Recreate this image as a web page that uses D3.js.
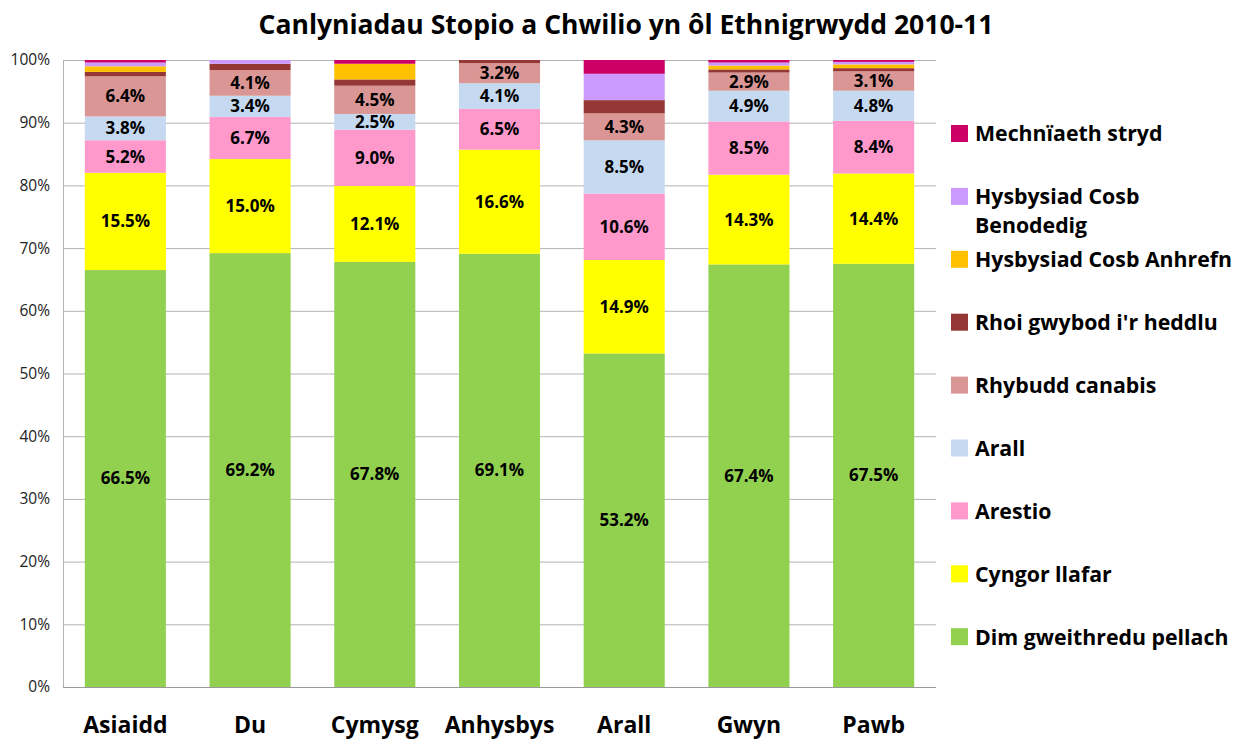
<!DOCTYPE html>
<html>
<head>
<meta charset="utf-8">
<script src="https://cdn.jsdelivr.net/npm/d3@7"></script>
<style>
  body { margin: 0; background: #fff; }
  svg, svg text { font-family: "Open Sans", Lato, sans-serif; }
  .grid line { stroke: #b3b3b3; }
  .y-axis text { font-size: 15.5px; fill: #222; }
  .x-axis text { font-size: 23px; font-weight: bold; fill: #000; }
  .seg-label { font-size: 17px; font-weight: bold; fill: #000; }
  .legend text { font-size: 21.3px; font-weight: bold; fill: #000; }
</style>
</head>
<body>
<div id="chart"></div>
<script>
const categories = ["Asiaidd", "Du", "Cymysg", "Anhysbys", "Arall", "Gwyn", "Pawb"];

// stacked bottom to top
const dimGweithredu = [66.5, 69.2, 67.8, 69.1, 53.2, 67.4, 67.5];
const cyngorLlafar  = [15.5, 15.0, 12.1, 16.6, 14.9, 14.3, 14.4];
const arestio       = [5.2, 6.7, 9.0, 6.5, 10.6, 8.5, 8.4];
const arall         = [3.8, 3.4, 2.5, 4.1, 8.5, 4.9, 4.8];
const rhybudd       = [6.4, 4.1, 4.5, 3.2, 4.3, 2.9, 3.1];
const rhoiGwybod    = [0.7, 1.0, 1.0, 0.5, 2.1, 0.5, 0.5];
const cosbAnhrefn   = [0.9, 0.0, 2.5, 0.0, 0.0, 0.6, 0.6];
const cosbBenodedig = [0.6, 0.6, 0.0, 0.0, 4.2, 0.5, 0.4];
const mechniaeth    = [0.4, 0.0, 0.6, 0.0, 2.2, 0.4, 0.3];

const yTicks = [0, 10, 20, 30, 40, 50, 60, 70, 80, 90, 100];

const series = [
  { name: "Dim gweithredu pellach", values: dimGweithredu, color: "#92D050", label: true },
  { name: "Cyngor llafar", values: cyngorLlafar, color: "#FFFF00", label: true },
  { name: "Arestio", values: arestio, color: "#FF99CC", label: true },
  { name: "Arall", values: arall, color: "#C5D9F1", label: true },
  { name: "Rhybudd canabis", values: rhybudd, color: "#DA9694", label: true },
  { name: "Rhoi gwybod i'r heddlu", values: rhoiGwybod, color: "#953735", label: false },
  { name: "Hysbysiad Cosb Anhrefn", values: cosbAnhrefn, color: "#FFC000", label: false },
  { name: "Hysbysiad Cosb Benodedig", values: cosbBenodedig, color: "#CC99FF", label: false },
  { name: "Mechnïaeth stryd", values: mechniaeth, color: "#CC0066", label: false }
];

const width = 1237, height = 742;
const plot = { left: 63, right: 936, top: 60, bottom: 687 };

const svg = d3.select("#chart").append("svg")
  .attr("width", width).attr("height", height);

const x = d3.scaleBand().domain(categories).range([plot.left, plot.right]).paddingInner(0.35).paddingOuter(0.175);
const y = d3.scaleLinear().domain([0, 100]).range([plot.bottom, plot.top]);

// gridlines
svg.append("g").attr("class", "grid")
  .selectAll("line").data(yTicks).join("line")
  .attr("x1", plot.left).attr("x2", plot.right)
  .attr("y1", d => y(d) + 0.5).attr("y2", d => y(d) + 0.5);

svg.append("line")
  .attr("x1", plot.left + 0.5).attr("x2", plot.left + 0.5)
  .attr("y1", plot.top).attr("y2", plot.bottom)
  .attr("stroke", "#b3b3b3");

// stack
const rows = categories.map((c, i) => {
  const r = { cat: c };
  series.forEach(s => { r[s.name] = s.values[i]; });
  return r;
});
const stacked = d3.stack().keys(series.map(s => s.name))(rows);

const layers = svg.append("g").selectAll("g").data(stacked).join("g")
  .attr("fill", (d, i) => series[i].color);

layers.selectAll("rect").data(d => d).join("rect")
  .attr("x", d => x(d.data.cat))
  .attr("width", x.bandwidth())
  .attr("y", d => y(d[1]))
  .attr("height", d => Math.max(0, y(d[0]) - y(d[1])));

// labels
stacked.forEach((layer, i) => {
  if (!series[i].label) return;
  svg.append("g").selectAll("text").data(layer).join("text")
    .attr("class", "seg-label")
    .attr("x", d => x(d.data.cat) + x.bandwidth() / 2)
    .attr("y", d => y((d[0] + d[1]) / 2))
    .attr("dy", "0.35em")
    .attr("text-anchor", "middle")
    .text(d => (d[1] - d[0]).toFixed(1) + "%");
});

// y axis
const yAxis = svg.append("g").attr("class", "y-axis")
  .attr("transform", `translate(${plot.left},0)`)
  .call(d3.axisLeft(y).tickValues(yTicks).tickSize(0).tickPadding(13).tickFormat(d => d + "%"));
yAxis.select(".domain").remove();

// x axis
const xAxis = svg.append("g").attr("class", "x-axis")
  .attr("transform", `translate(0,${plot.bottom})`)
  .call(d3.axisBottom(x).tickSize(0).tickPadding(30));
xAxis.select(".domain").attr("stroke", "#999").attr("d", `M${plot.left},0.5H${plot.right}`);

// title
svg.append("text")
  .attr("x", 626).attr("y", 34)
  .attr("text-anchor", "middle")
  .style("font-size", "26.5px").style("font-weight", "bold")
  .text("Canlyniadau Stopio a Chwilio yn ôl Ethnigrwydd 2010-11");

// legend (top = last series)
const legendItems = series.slice().reverse();
const legend = svg.append("g").attr("class", "legend");
legendItems.forEach((s, i) => {
  const cy = 134 + i * 62.9;
  legend.append("rect")
    .attr("x", 951).attr("y", cy - 9).attr("width", 17).attr("height", 17)
    .attr("fill", s.color);
  const words = s.name === "Hysbysiad Cosb Benodedig" ? ["Hysbysiad Cosb", "Benodedig"] : [s.name];
  const t = legend.append("text").attr("x", 975).attr("y", cy);
  words.forEach((w, j) => {
    t.append("tspan").attr("x", 975).attr("dy", j === 0 ? "0.35em" : "29px").text(w);
  });
});
</script>
</body>
</html>
